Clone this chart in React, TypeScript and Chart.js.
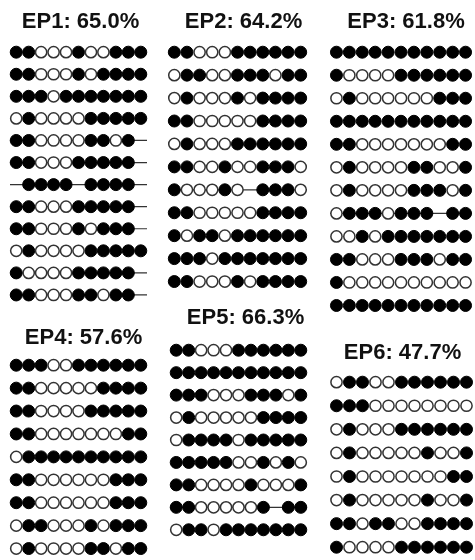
import React, { useEffect, useRef } from 'react';
import Chart from 'chart.js/auto';

// '1' methylated (filled), '0' unmethylated (open), '-' no call (line only)
const panelTitles = ['EP1: 65.0%', 'EP2: 64.2%', 'EP3: 61.8%', 'EP4: 57.6%', 'EP5: 66.3%', 'EP6: 47.7%'];

const ep1Rows = [
  '11000100111',
  '11000101111',
  '11101111111',
  '01000011111',
  '1100001101-',
  '1100011111-',
  '-1111-1111-',
  '1100011111-',
  '1100010111-',
  '01000011111',
  '1000011111-',
  '1100011011-',
];

const ep2Rows = [
  '11000111111',
  '01100111011',
  '01000101111',
  '11000001111',
  '01000111111',
  '11001001110',
  '100010-1110',
  '11000001111',
  '10110111111',
  '11101111111',
  '11000101111',
];

const ep3Rows = [
  '11111111111',
  '10000111111',
  '01000000111',
  '11111111111',
  '11000000011',
  '01000011001',
  '01000011101',
  '01110111-11',
  '00101111111',
  '11000111011',
  '10000000000',
  '11111111111',
];

const ep4Rows = [
  '11100111111',
  '11000001111',
  '11000011111',
  '11000000011',
  '01111111111',
  '11000000111',
  '11000000111',
  '01100010111',
  '01000011011',
];

const ep5Rows = [
  '11000111111',
  '11111111111',
  '11100011101',
  '01000001111',
  '01111011111',
  '11111001010',
  '11000010001',
  '11000001-11',
  '01101111111',
];

const ep6Rows = [
  '01100111111',
  '11100000000',
  '01000111111',
  '01000001001',
  '01000000011',
  '01000001001',
  '11011001111',
  '10000111111',
];

const panelRows = [ep1Rows, ep2Rows, ep3Rows, ep4Rows, ep5Rows, ep6Rows];

// where each block sits on the page (px)
const panelBoxes = [
  { left: 10, span: 137, firstRow: 52, rowGap: 22.1, titleY: 22, shift: 2 },
  { left: 168, span: 139, firstRow: 52, rowGap: 22.9, titleY: 22, shift: 6 },
  { left: 330, span: 142, firstRow: 52, rowGap: 23, titleY: 22, shift: 5 },
  { left: 10, span: 137, firstRow: 365, rowGap: 22.9, titleY: 338, shift: 5 },
  { left: 170, span: 137, firstRow: 350, rowGap: 22.4, titleY: 318, shift: 7 },
  { left: 330, span: 143, firstRow: 382, rowGap: 23.6, titleY: 353, shift: 1 },
];

const PAD = 8;
const TITLE_SIZE = 22;

interface Box { left: number; span: number; firstRow: number; rowGap: number; titleY: number; shift: number }

const Panel: React.FC<{ title: string; rows: string[]; box: Box }> = ({ title, rows, box }) => {
  const canvasRef = useRef<HTMLCanvasElement>(null);
  const n = rows.length;
  const cols = rows[0].length;
  const colW = box.span / cols;
  const width = Math.round(box.span + 2 * box.shift + 2 * PAD);
  const titleGap = box.firstRow - box.rowGap / 2 - box.titleY - TITLE_SIZE * 0.6;
  const height = Math.round(TITLE_SIZE * 1.2 + titleGap + n * box.rowGap + PAD);
  const top = box.titleY - TITLE_SIZE * 0.6;

  useEffect(() => {
    if (!canvasRef.current) return;
    const filled: { x: number; y: number }[] = [];
    const open: { x: number; y: number }[] = [];
    const lineSets: any[] = [];
    rows.forEach((r, i) => {
      r.split('').forEach((c, j) => {
        if (c === '1') filled.push({ x: j + 1, y: i + 1 });
        else if (c === '0') open.push({ x: j + 1, y: i + 1 });
      });
      if (r.includes('-')) {
        lineSets.push({
          data: [{ x: 0.5, y: i + 1 }, { x: cols + 0.5, y: i + 1 }],
          showLine: true,
          borderColor: '#333',
          borderWidth: 1.2,
          pointRadius: 0,
          clip: false,
          order: 2,
        });
      }
    });

    const chart = new Chart(canvasRef.current, {
      type: 'scatter',
      data: {
        datasets: [
          {
            data: open,
            pointRadius: 5.6,
            pointBackgroundColor: '#fff',
            pointBorderColor: '#333',
            pointBorderWidth: 1.5,
            clip: false,
            order: 1,
          },
          {
            data: filled,
            pointRadius: 6,
            pointBackgroundColor: '#000',
            pointBorderColor: '#000',
            pointBorderWidth: 1,
            clip: false,
            order: 1,
          },
          ...lineSets,
        ],
      },
      options: {
        animation: false,
        responsive: false,
        events: [],
        layout: { padding: { left: PAD, right: PAD, top: 0, bottom: PAD } },
        plugins: {
          legend: { display: false },
          tooltip: { enabled: false },
          title: {
            display: true,
            text: title,
            color: '#111',
            font: { family: "'Liberation Sans', Arial, sans-serif", size: TITLE_SIZE, weight: 'bold', lineHeight: 1.2 },
            padding: { top: 0, bottom: titleGap },
          },
        },
        scales: {
          x: { type: 'linear', display: false, min: 0.5, max: cols + 0.5 + (2 * box.shift) / colW },
          y: { type: 'linear', display: false, min: 0.5, max: n + 0.5, reverse: true },
        },
      },
    });
    return () => chart.destroy();
  }, [title, rows, box]);

  return (
    <canvas
      ref={canvasRef}
      width={width}
      height={height}
      style={{ position: 'absolute', left: box.left - PAD, top, width, height }}
    />
  );
};

export default function App() {
  useEffect(() => {
    document.body.style.margin = '0';
  }, []);
  return (
    <div style={{ position: 'relative', width: 475, height: 560, background: '#fff', overflow: 'hidden' }}>
      {panelRows.map((rows, i) => (
        <Panel key={i} title={panelTitles[i]} rows={rows} box={panelBoxes[i]} />
      ))}
    </div>
  );
}
